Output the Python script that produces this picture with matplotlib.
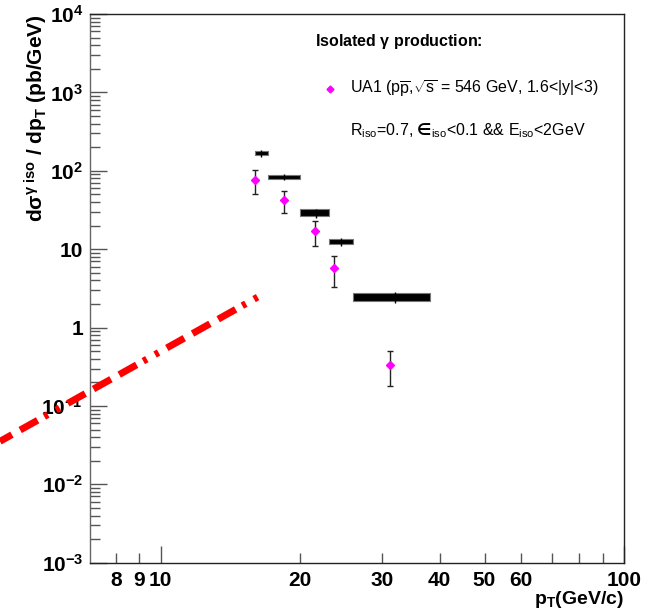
import matplotlib
matplotlib.use("Agg")
import matplotlib.pyplot as plt
from matplotlib.ticker import FixedLocator, FixedFormatter, NullFormatter

plt.rcParams['font.family'] = ['Liberation Sans', 'DejaVu Sans']
plt.rcParams['font.weight'] = 'bold'
plt.rcParams['mathtext.fontset'] = 'custom'
plt.rcParams['mathtext.rm'] = 'Liberation Sans'
plt.rcParams['mathtext.it'] = 'Liberation Sans:italic'
plt.rcParams['mathtext.bf'] = 'Liberation Sans:bold'
plt.rcParams['mathtext.sf'] = 'DejaVu Sans'
plt.rcParams['mathtext.default'] = 'regular'
plt.rcParams['lines.scale_dashes'] = False

# UA1 isolated photon data (pT in GeV/c, cross section in pb/GeV)
ua1_pt = [15.98, 18.45, 21.5, 23.7, 31.3]
ua1_y = [76, 42, 17.1, 5.7, 0.336]
ua1_lo = [50, 29, 11.1, 3.33, 0.18]
ua1_hi = [103, 54.7, 22.7, 8.1, 0.50]

# calculation shown as black bands
theory_left = [16.0, 17.07, 20.0, 23.1, 26.0]
theory_right = [17.07, 20.0, 23.1, 26.0, 38.1]
theory_mid = [16.5, 18.5, 21.6, 24.5, 32.1]
theory_lo = [157, 79, 26.5, 11.5, 2.17]
theory_hi = [177, 89.5, 32.1, 13.4, 2.72]
theory_tick_lo = [152, 77, 25, 11.0, 2.05]
theory_tick_hi = [182, 92, 33, 13.9, 2.85]

# red dash-dotted curve
curve_pt = [4.5, 16.2]
curve_y = [0.0353, 2.45]

ytick_vals = [1e-3, 1e-2, 1e-1, 1, 10, 1e2, 1e3, 1e4]
ytick_labels = ['$10^{-3}$', '$10^{-2}$', '$10^{-1}$', '1', '10',
                '$10^{2}$', '$10^{3}$', '$10^{4}$']
xmajor_vals = [10, 100]
xmajor_labels = ['10', '100']
xminor_vals = [8, 9, 20, 30, 40, 50, 60, 70, 80, 90]
xminor_labels = ['8', '9', '20', '30', '40', '50', '60', '', '', '']
yminor_vals = [m * 10.0**e for e in range(-3, 4) for m in range(2, 10)]

fig = plt.figure(figsize=(6.58, 6.15), dpi=100)
ax = fig.add_axes([90/658, 1 - 562.7/615, 534/658, 548.7/615])
ax.set_xscale('log')
ax.set_yscale('log')
ax.set_xlim(7.04, 100)
ax.set_ylim(1e-3, 1e4)

# theory bands
for i in range(len(theory_left)):
    ax.fill_between([theory_left[i], theory_right[i]], theory_lo[i], theory_hi[i],
                    color='black', edgecolor='#777777', linewidth=0.8, zorder=3)
ax.vlines(theory_mid, theory_tick_lo, theory_tick_hi, color='black', lw=1, zorder=3)

# data
ax.errorbar(ua1_pt, ua1_y,
            yerr=[[y - l for y, l in zip(ua1_y, ua1_lo)],
                  [h - y for y, h in zip(ua1_y, ua1_hi)]],
            fmt='D', color='magenta', markersize=4.5, mec='magenta',
            ecolor='#222222', elinewidth=1, capsize=2.2, capthick=1, zorder=4)

# curve
ax.plot(curve_pt, curve_y, color='red', lw=5,
        linestyle=(25.7, [14.4, 6.8, 14.4, 6.8, 14.4, 5.5, 2.9, 6.8, 2.9, 6.8]),
        clip_on=False, zorder=2)

# ticks
ax.yaxis.set_major_locator(FixedLocator(ytick_vals))
ax.yaxis.set_major_formatter(FixedFormatter(ytick_labels))
ax.yaxis.set_minor_locator(FixedLocator(yminor_vals))
ax.yaxis.set_minor_formatter(NullFormatter())
ax.xaxis.set_major_locator(FixedLocator(xmajor_vals))
ax.xaxis.set_major_formatter(FixedFormatter(xmajor_labels))
ax.xaxis.set_minor_locator(FixedLocator(xminor_vals))
ax.xaxis.set_minor_formatter(FixedFormatter(xminor_labels))

ax.tick_params(axis='both', which='both', direction='in', top=False, right=False,
               color='#555555', width=1, labelsize=15)
ax.tick_params(axis='y', which='major', length=12, pad=5)
ax.tick_params(axis='y', which='minor', length=7)
ax.tick_params(axis='x', which='major', length=12, pad=6)
ax.tick_params(axis='x', which='minor', length=7, pad=6)
for sp in ax.spines.values():
    sp.set_linewidth(1)
    sp.set_color('#222222')
ax.spines['left'].set_color('#666666')

# legend-like text
ax.text(0.4213, 0.949, r'Isolated $\gamma$ production:', transform=ax.transAxes,
        fontsize=11.5, fontweight='bold', ha='left', va='center')
ax.plot([0.449], [0.8634], 'D', color='magenta', markersize=3.5,
        transform=ax.transAxes)
ax.text(0.487, 0.8634, r'UA1 (p$\overline{p}$,$\sqrt{s}$ = 546 GeV, 1.6<|y|<3)',
        transform=ax.transAxes, fontsize=11.5, fontweight='normal',
        ha='left', va='center')
ax.text(0.487, 0.787, r'R$_{iso}$=0.7, $\mathsf{∈}_{iso}$<0.1 && E$_{iso}$<2GeV',
        transform=ax.transAxes, fontsize=11.5, fontweight='normal',
        ha='left', va='center')

# axis titles
fig.text(36/658, 1 - 14/615, r'd$\sigma^{\gamma\ iso}$ / dp$_T$ (pb/GeV)',
         rotation=90, ha='center', va='top', fontsize=15, fontweight='bold')
fig.text(624/658, 1 - 600/615, r'p$_T$(GeV/c)', ha='right', va='center',
         fontsize=14, fontweight='bold')

fig.savefig('out.png', dpi=100)
